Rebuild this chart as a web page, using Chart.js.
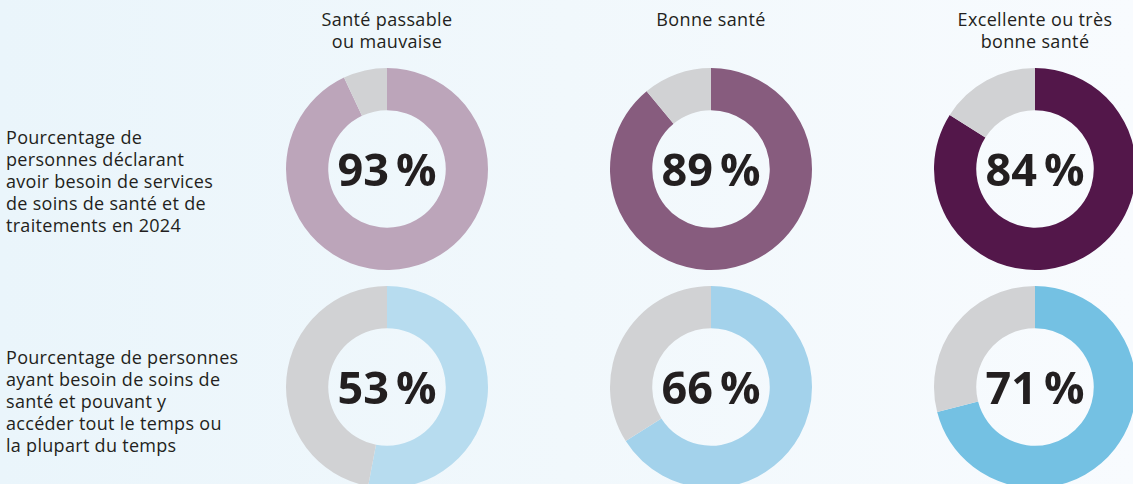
<!DOCTYPE html>
<html lang="fr">
<head>
<meta charset="utf-8">
<title>Besoin et accès aux soins de santé selon l'état de santé</title>
<script src="https://cdn.jsdelivr.net/npm/chart.js@4/dist/chart.umd.min.js"></script>
<style>
  html, body {
    margin: 0;
    padding: 0;
    width: 1133px;
    height: 484px;
    overflow: hidden;
  }
  body {
    position: relative;
    background: linear-gradient(to right, #eaf5fb 0%, #f1f8fc 50%, #f8fbfe 100%);
    font-family: 'Open Sans', 'Noto Sans', sans-serif;
    color: #231f20;
  }
  .col-head {
    position: absolute;
    top: 8px;
    width: 260px;
    text-align: center;
    font-size: 18px;
    letter-spacing: 0.35px;
    line-height: 22px;
    white-space: pre-line;
  }
  .row-label {
    position: absolute;
    left: 6px;
    width: 270px;
    font-size: 18px;
    letter-spacing: 0.3px;
    line-height: 22px;
    white-space: pre-line;
  }
  canvas.ring {
    position: absolute;
  }
</style>
</head>
<body>
<script>
// Catégories d'état de santé (colonnes) et questions (lignes)
const healthGroups = ['Santé passable\nou mauvaise', 'Bonne santé', 'Excellente ou très\nbonne santé'];
const questionLabels = [
  'Pourcentage de\npersonnes déclarant\navoir besoin de services\nde soins de santé et de\ntraitements en 2024',
  'Pourcentage de personnes\nayant besoin de soins de\nsanté et pouvant y\naccéder tout le temps ou\nla plupart du temps'
];

// Pourcentages par groupe
const needValues = [93, 89, 84];
const accessValues = [53, 66, 71];

const needColors = ['#bca5ba', '#875c7e', '#53174a'];
const accessColors = ['#b7dcef', '#a3d2eb', '#74c1e3'];
const restColor = '#d1d2d4';

const colCenters = [387, 711, 1035];
const rowCenters = [169, 387];
const labelTops = [126, 346];

// Texte central : nombre + espace fine + %
const centerText = {
  id: 'centerText',
  afterDraw(chart) {
    const ctx = chart.ctx;
    const arc = chart.getDatasetMeta(0).data[0];
    const value = chart.data.datasets[0].data[0];
    const num = String(value);
    ctx.save();
    ctx.font = 'bold 45px "Open Sans", "Noto Sans", sans-serif';
    ctx.fillStyle = '#231f20';
    ctx.textBaseline = 'alphabetic';
    const gap = 7;
    const wNum = ctx.measureText(num).width;
    const wPct = ctx.measureText('%').width;
    const total = wNum + gap + wPct;
    const x0 = arc.x - total / 2;
    const y = arc.y + 17;
    ctx.fillText(num, x0, y);
    ctx.fillText('%', x0 + wNum + gap, y);
    ctx.restore();
  }
};

healthGroups.forEach((name, i) => {
  const head = document.createElement('div');
  head.className = 'col-head';
  head.style.left = (colCenters[i] - 130) + 'px';
  head.textContent = name;
  document.body.appendChild(head);
});

questionLabels.forEach((text, r) => {
  const lbl = document.createElement('div');
  lbl.className = 'row-label';
  lbl.style.top = labelTops[r] + 'px';
  lbl.textContent = text;
  document.body.appendChild(lbl);
});

function makeRing(cx, cy, value, color) {
  const canvas = document.createElement('canvas');
  canvas.className = 'ring';
  canvas.width = 220;
  canvas.height = 220;
  canvas.style.left = (cx - 110) + 'px';
  canvas.style.top = (cy - 110) + 'px';
  document.body.appendChild(canvas);

  new Chart(canvas.getContext('2d'), {
    type: 'doughnut',
    data: {
      labels: ['Oui', 'Autre'],
      datasets: [{
        data: [value, 100 - value],
        backgroundColor: [color, restColor],
        borderWidth: 0
      }]
    },
    options: {
      responsive: false,
      animation: false,
      radius: 101,
      cutout: 64,
      events: [],
      plugins: {
        legend: { display: false },
        tooltip: { enabled: false }
      }
    },
    plugins: [centerText]
  });
}

needValues.forEach((v, i) => makeRing(colCenters[i], rowCenters[0], v, needColors[i]));
accessValues.forEach((v, i) => makeRing(colCenters[i], rowCenters[1], v, accessColors[i]));
</script>
</body>
</html>
